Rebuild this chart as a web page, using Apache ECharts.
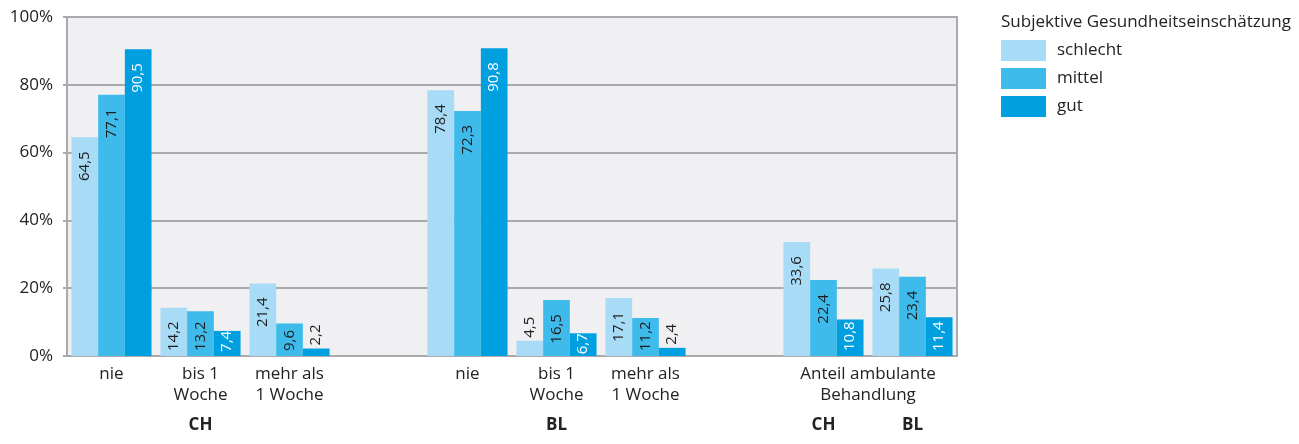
<!DOCTYPE html>
<html><head><meta charset="utf-8">
<script src="https://cdn.jsdelivr.net/npm/echarts@6/dist/echarts.min.js"></script>
<style>html,body{margin:0;padding:0;background:#fff}#c{width:1299px;height:444px}</style>
</head><body><div id="c"></div>
<script>
const categories = ['nie', 'bis 1\nWoche', 'mehr als\n1 Woche', '', 'nie', 'bis 1\nWoche', 'mehr als\n1 Woche', '', '', ''];
const regionLabels = ['', 'CH', '', '', '', 'BL', '', '', 'CH', 'BL'];
const blockLabels = ['', '', '', '', 'Anteil ambulante\nBehandlung'];
const seriesNames = ['schlecht', 'mittel', 'gut'];
const schlecht = [64.5, 14.2, 21.4, null, 78.4, 4.5, 17.1, null, 33.6, 25.8];
const mittel = [77.1, 13.2, 9.6, null, 72.3, 16.5, 11.2, null, 22.4, 23.4];
const gut = [90.5, 7.4, 2.2, null, 90.8, 6.7, 2.4, null, 10.8, 11.4];
const yTicks = [0, 20, 40, 60, 80, 100];
const legendTitle = 'Subjektive Gesundheitseinschätzung';

const colors = ['#a8dbf6', '#3ebbea', '#009fdf'];
const insideText = ['#1e1e1e', '#1e1e1e', '#ffffff'];
const FONT = 'Open Sans';
const LABEL_SIZE = 15;
const fmt = v => v.toFixed(1).replace('.', ',');

const ctx = document.createElement('canvas').getContext('2d');
ctx.font = LABEL_SIZE + 'px "' + FONT + '"';
const textW = s => ctx.measureText(s).width;

function items(vals, distances) {
  return vals.map((v, j) => {
    if (v == null) return null;
    if (v < 5) {
      return { value: v, label: { position: 'top', align: 'left', distance: 3, color: '#1e1e1e' } };
    }
    if (distances) return { value: v, label: { distance: distances[j] } };
    return v;
  });
}

const allVals = [schlecht, mittel, gut];
const chart = echarts.init(document.getElementById('c'), null, { renderer: 'canvas' });

function buildSeries(distSets) {
  return seriesNames.map((name, i) => ({
    name, type: 'bar', xAxisIndex: 0,
    data: items(allVals[i], distSets ? distSets[i] : null),
    barGap: '0%', barCategoryGap: '10%',
    itemStyle: { color: colors[i] },
    label: {
      show: true, position: 'insideTop', rotate: 90, align: 'right', verticalAlign: 'middle',
      distance: 14, fontSize: LABEL_SIZE, color: insideText[i], fontFamily: FONT,
      formatter: p => fmt(p.value)
    }
  }));
}

chart.setOption({
  animation: false,
  textStyle: { fontFamily: FONT },
  title: {
    text: legendTitle, left: 1001, top: 14, padding: 0,
    textStyle: { fontFamily: FONT, fontSize: 17, fontWeight: 'normal', color: '#222' }
  },
  legend: {
    data: seriesNames, orient: 'vertical', left: 1001, top: 40, padding: 0,
    icon: 'rect', itemWidth: 45, itemHeight: 21, itemGap: 7,
    textStyle: { fontFamily: FONT, fontSize: 17, color: '#222', padding: [0, 0, 0, 6] }
  },
  grid: {
    left: 67, right: 342, top: 17, bottom: 88,
    show: true, backgroundColor: '#f0f0f3', borderColor: '#a9a9ae', borderWidth: 2
  },
  xAxis: [
    {
      type: 'category', data: categories,
      axisLine: { lineStyle: { color: '#a9a9ae', width: 2 } },
      axisTick: { show: false },
      axisLabel: { interval: 0, margin: 8, fontSize: 17, lineHeight: 21, color: '#222', fontFamily: FONT }
    },
    {
      type: 'category', data: regionLabels, position: 'bottom',
      axisLine: { show: false }, axisTick: { show: false },
      axisLabel: { interval: 0, margin: 61, fontSize: 17, fontWeight: 'bold', color: '#222', fontFamily: FONT }
    },
    {
      type: 'category', data: blockLabels, position: 'bottom',
      axisLine: { show: false }, axisTick: { show: false },
      axisLabel: { interval: 0, margin: 8, fontSize: 17, lineHeight: 21, color: '#222', fontFamily: FONT }
    }
  ],
  yAxis: {
    type: 'value', min: yTicks[0], max: yTicks[yTicks.length - 1], interval: 20,
    axisLine: { show: true, lineStyle: { color: '#a9a9ae', width: 2 } },
    axisTick: { show: true, length: 4, lineStyle: { color: '#a9a9ae', width: 2 } },
    splitLine: { lineStyle: { color: '#a9a9ae', width: 2 } },
    axisLabel: { formatter: '{value}%', fontSize: 17, color: '#222', margin: 14, fontFamily: FONT }
  },
  series: buildSeries(null)
});

// second pass: keep inside labels within their bar (pixel heights from the axis scale)
const base = chart.convertToPixel({ yAxisIndex: 0 }, 0);
const distSets = allVals.map(vals => vals.map(v => {
  if (v == null || v < 5) return null;
  const h = base - chart.convertToPixel({ yAxisIndex: 0 }, v);
  const w = textW(fmt(v));
  return Math.max(0, Math.min(14, h - w - 5));
}));
chart.setOption({ series: buildSeries(distSets) });
</script>
</body></html>
